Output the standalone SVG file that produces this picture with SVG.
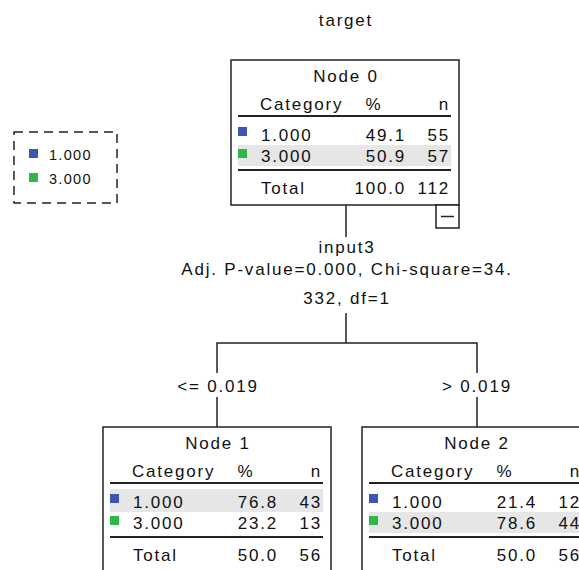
<svg xmlns="http://www.w3.org/2000/svg" width="579" height="570" viewBox="0 0 579 570">
<style>
  text { font-family: "Liberation Sans", Arial, sans-serif; font-size: 17px; letter-spacing: 1.8px; fill: #111; }
  .mid { text-anchor: middle; }
  .end { text-anchor: end; }
  .lg { font-size: 14.5px; letter-spacing: 1.3px; }
  .box { fill: #fff; stroke: #222; stroke-width: 1.5; }
  .rule { stroke: #222; stroke-width: 2; }
  .hl { fill: #e6e6e6; }
  .c1 { fill: #3f56b0; }
  .c3 { fill: #2db84a; }
  .conn { stroke: #222; stroke-width: 1.5; fill: none; }
</style>

<text class="mid" x="346" y="26">target</text>

<g id="legend">
  <rect x="14" y="132" width="103" height="71" fill="none" stroke="#222" stroke-width="1.5" stroke-dasharray="9,6"/>
  <rect class="c1" x="29" y="149" width="9" height="9"/>
  <text class="lg" x="49" y="160">1.000</text>
  <rect class="c3" x="29" y="173" width="9" height="9"/>
  <text class="lg" x="49" y="184">3.000</text>
</g>

<g id="connectors">
  <line class="conn" x1="346" y1="205" x2="346" y2="237"/>
  <line class="conn" x1="346" y1="313" x2="346" y2="343"/>
  <polyline class="conn" points="217,373 217,343 477,343 477,373"/>
  <line class="conn" x1="217" y1="397" x2="217" y2="427"/>
  <line class="conn" x1="477" y1="397" x2="477" y2="427"/>
  <text class="mid" x="347" y="253">input3</text>
  <text class="mid" x="347" y="275">Adj. P-value=0.000, Chi-square=34.</text>
  <text class="mid" x="347" y="304">332, df=1</text>
  <text class="mid" x="218" y="392">&lt;= 0.019</text>
  <text class="mid" x="477" y="392">&gt; 0.019</text>
</g>

<g id="node0" transform="translate(231,60)">
  <rect class="box" x="0" y="0" width="228" height="145"/>
  <text class="mid" x="115" y="22">Node 0</text>
  <text x="29" y="50">Category</text>
  <text class="mid" x="143" y="50">%</text>
  <text class="end" x="219" y="50">n</text>
  <line class="rule" x1="7" y1="56" x2="220" y2="56"/>
  <rect class="hl" x="7" y="85" width="213" height="21"/>
  <rect class="c1" x="7" y="67" width="9" height="9"/>
  <text x="30" y="81">1.000</text>
  <text class="end" x="175" y="81">49.1</text>
  <text class="end" x="219" y="81">55</text>
  <rect class="c3" x="7" y="89" width="9" height="9"/>
  <text x="30" y="102">3.000</text>
  <text class="end" x="175" y="102">50.9</text>
  <text class="end" x="219" y="102">57</text>
  <line class="rule" x1="7" y1="110" x2="220" y2="110"/>
  <text x="30" y="134">Total</text>
  <text class="end" x="175" y="134">100.0</text>
  <text class="end" x="219" y="134">112</text>
  <rect class="box" x="205" y="145" width="23" height="23"/>
  <line x1="210" y1="156.5" x2="223" y2="156.5" stroke="#222" stroke-width="1.5"/>
</g>

<g id="node1" transform="translate(103,427)">
  <rect class="box" x="0" y="0" width="228" height="145"/>
  <text class="mid" x="115" y="22">Node 1</text>
  <text x="29" y="50">Category</text>
  <text class="mid" x="143" y="50">%</text>
  <text class="end" x="219" y="50">n</text>
  <line class="rule" x1="7" y1="56" x2="220" y2="56"/>
  <rect class="hl" x="7" y="62" width="213" height="23"/>
  <rect class="c1" x="7" y="67" width="9" height="9"/>
  <text x="30" y="81">1.000</text>
  <text class="end" x="175" y="81">76.8</text>
  <text class="end" x="219" y="81">43</text>
  <rect class="c3" x="7" y="89" width="9" height="9"/>
  <text x="30" y="102">3.000</text>
  <text class="end" x="175" y="102">23.2</text>
  <text class="end" x="219" y="102">13</text>
  <line class="rule" x1="7" y1="110" x2="220" y2="110"/>
  <text x="30" y="134">Total</text>
  <text class="end" x="175" y="134">50.0</text>
  <text class="end" x="219" y="134">56</text>
</g>

<g id="node2" transform="translate(362,427)">
  <rect class="box" x="0" y="0" width="228" height="145"/>
  <text class="mid" x="115" y="22">Node 2</text>
  <text x="29" y="50">Category</text>
  <text class="mid" x="143" y="50">%</text>
  <text class="end" x="219" y="50">n</text>
  <line class="rule" x1="7" y1="56" x2="220" y2="56"/>
  <rect class="hl" x="7" y="85" width="213" height="21"/>
  <rect class="c1" x="7" y="67" width="9" height="9"/>
  <text x="30" y="81">1.000</text>
  <text class="end" x="175" y="81">21.4</text>
  <text class="end" x="219" y="81">12</text>
  <rect class="c3" x="7" y="89" width="9" height="9"/>
  <text x="30" y="102">3.000</text>
  <text class="end" x="175" y="102">78.6</text>
  <text class="end" x="219" y="102">44</text>
  <line class="rule" x1="7" y1="110" x2="220" y2="110"/>
  <text x="30" y="134">Total</text>
  <text class="end" x="175" y="134">50.0</text>
  <text class="end" x="219" y="134">56</text>
</g>
</svg>
